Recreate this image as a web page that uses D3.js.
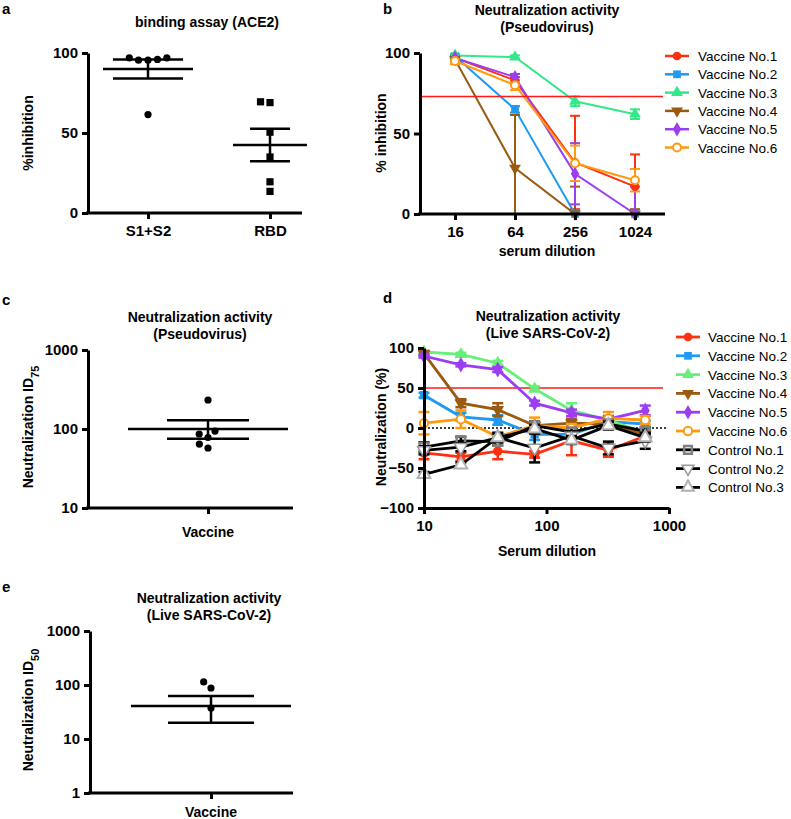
<!DOCTYPE html>
<html><head><meta charset="utf-8">
<script src="https://cdn.jsdelivr.net/npm/d3@7"></script>
<style>body{margin:0;background:#fff}svg{display:block}</style>
</head><body>
<script>
// ================= DATA =================
// Panel a
const aCategories = ["S1+S2", "RBD"];
const aS1S2Values = [97, 95.5, 95.5, 96, 97, 61.5];
const aRBDValues = [69, 69.5, 50.5, 35, 19.5, 13.5];
const aMeans = [90, 42.5];
const aSEMs = [6, 10.2];
const aYTicks = [0, 50, 100];

// Panel b
const bDilutions = [16, 64, 256, 1024];
const bSeriesNames = ["Vaccine No.1", "Vaccine No.2", "Vaccine No.3", "Vaccine No.4", "Vaccine No.5", "Vaccine No.6"];
const bV1 = [97, 83, 32, 17];   const bV1Err = [1, 2, 29, 20];
const bV2 = [98, 65, 0, 0];     const bV2Err = [1, 2, 2, 1];
const bV3 = [98.5, 97.5, 70, 62]; const bV3Err = [1, 1, 3, 3];
const bV4 = [96, 28.5, 0, 0];   const bV4Err = [1, 33, 17, 3];
const bV5 = [97, 85, 25, 0];    const bV5Err = [1, 2, 19, 17];
const bV6 = [95, 80, 31.5, 21]; const bV6Err = [2, 3, 11, 7];
const bThreshold = 73;
const bYTicks = [0, 50, 100];

// Panel c
const cCategory = ["Vaccine"];
const cValues = [233, 86.5, 78, 94, 64.5, 57.5];
const cMean = 100, cSEMLow = 75, cSEMHigh = 129;
const cYTicks = [10, 100, 1000];

// Panel d
const dDilutions = [10, 20, 40, 80, 160, 320, 640];
const dSeriesNames = ["Vaccine No.1", "Vaccine No.2", "Vaccine No.3", "Vaccine No.4", "Vaccine No.5", "Vaccine No.6", "Control No.1", "Control No.2", "Control No.3"];
const dV1 = [-31, -36, -29, -33, -16, -28, -10]; const dV1Err = [8, 5, 10, 4, 18, 8, 5];
const dV2 = [41, 14, 10, -8, -8, 8, 5];          const dV2Err = [3, 5, 6, 7, 5, 5, 4];
const dV3 = [95, 92, 81, 49, 22, 10, -6];        const dV3Err = [2, 2, 3, 3, 9, 5, 4];
const dV4 = [93, 31, 23, 3, 6, 5, -8];           const dV4Err = [3, 5, 8, 5, 5, 5, 5];
const dV5 = [90, 79, 73, 31, 19, 11, 22];        const dV5Err = [2, 2, 3, 3, 4, 4, 6];
const dV6 = [6, 11, -11, 3, 0, 12, 10];          const dV6Err = [14, 11, 5, 10, 5, 8, 5];
const dC1 = [-24, -16, -17, 3, -5, 5, -4];       const dC1Err = [6, 5, 5, 5, 5, 5, 5];
const dC2 = [-28, -24, -12, -25, -10, -25, -16]; const dC2Err = [5, 5, 6, 18, 6, 8, 10];
const dC3 = [-58, -46, -12, -1, -15, 3, -12];    const dC3Err = [3, 3, 5, 5, 5, 5, 5];
const dThreshold = 50;
const dYTicks = [-100, -50, 0, 50, 100];
const dXTicks = [10, 100, 1000];

// Panel e
const eCategory = ["Vaccine"];
const eValues = [114, 88, 37.5];
const eMean = 41, eSEMLow = 20, eSEMHigh = 62.5;
const eYTicks = [1, 10, 100, 1000];

// ================= DRAWING =================
const FONT = "'Liberation Sans', Arial, Helvetica, sans-serif";
const TICK_FS = 15;
const svg = d3.select("body").append("svg").attr("width", 791).attr("height", 819);

function txt(x, y, s, o = {}) {
  const t = svg.append("text").attr("x", x).attr("y", y).text(s)
    .attr("font-family", FONT).attr("font-size", o.size || 14)
    .attr("font-weight", o.weight || "bold").attr("fill", "#000")
    .attr("text-anchor", o.anchor || "middle");
  if (o.rotate) t.attr("transform", `rotate(-90,${x},${y})`);
  return t;
}
function styleAxis(g) {
  g.selectAll(".domain").attr("stroke", "#000").attr("stroke-width", 3);
  g.selectAll(".tick line").attr("stroke", "#000").attr("stroke-width", 3);
  g.selectAll(".tick text").attr("font-family", FONT).attr("font-weight", "bold")
    .attr("font-size", TICK_FS).attr("fill", "#000");
}
function hline(x1, x2, y, w = 3, color = "#000") {
  svg.append("line").attr("x1", x1).attr("x2", x2).attr("y1", y).attr("y2", y)
    .attr("stroke", color).attr("stroke-width", w);
}
function yAxis(scale, x, ticks, fmt) {
  const g = svg.append("g").attr("transform", `translate(${x},0)`)
    .call(d3.axisLeft(scale).tickValues(ticks).tickSize(6).tickSizeOuter(0).tickPadding(4).tickFormat(fmt || d3.format("d")));
  styleAxis(g); return g;
}
function xTicks(scale, y, ticks, fmt) {
  const g = svg.append("g").attr("transform", `translate(0,${y})`)
    .call(d3.axisBottom(scale).tickValues(ticks).tickSize(6).tickSizeOuter(0).tickPadding(6).tickFormat(fmt || (d => d)));
  styleAxis(g); g.select(".domain").remove(); return g;
}
function beeswarm(vals, yScale, D) {
  const pts = vals.map((v, i) => ({ v, i, y: yScale(v) })).sort((a, b) => a.v - b.v);
  const placed = [];
  pts.forEach(p => {
    const cands = [0];
    placed.forEach(q => {
      const dy = Math.abs(q.y - p.y);
      if (dy < D) { const dx = Math.sqrt(D * D - dy * dy); cands.push(q.x + dx + 0.01, q.x - dx - 0.01); }
    });
    cands.sort((a, b) => Math.abs(a) - Math.abs(b) || a - b);
    for (const c of cands) {
      if (placed.every(q => Math.hypot(q.x - c, q.y - p.y) >= D - 0.001)) { p.x = c; break; }
    }
    placed.push(p);
  });
  return pts;
}
function meanSem(cx, yMean, yLo, yHi, wMean, wSem) {
  hline(cx - wMean, cx + wMean, yMean, 2.5);
  hline(cx - wSem, cx + wSem, yLo, 2.5);
  hline(cx - wSem, cx + wSem, yHi, 2.5);
  svg.append("line").attr("x1", cx).attr("x2", cx).attr("y1", yLo).attr("y2", yHi)
    .attr("stroke", "#000").attr("stroke-width", 2.5);
}

// ---------- Panel a ----------
{
  const y = d3.scaleLinear().domain([0, 100]).range([213, 53]);
  const x = d3.scalePoint().domain(aCategories).range([148, 270]);
  txt(2, 14, "a", { anchor: "start", size: 15 });
  txt(207, 27, "binding assay (ACE2)");
  txt(33, 133, "%inhibition", { rotate: true });
  hline(86, 302, 213);
  yAxis(y, 88, aYTicks);
  xTicks(x, 213, aCategories);
  const groups = [aS1S2Values, aRBDValues];
  groups.forEach((vals, gi) => {
    const cx = x(aCategories[gi]);
    if (gi === 0) meanSem(cx, y(aMeans[gi]), y(aMeans[gi] - aSEMs[gi]), y(aMeans[gi] + aSEMs[gi]), 45, 35);
    else meanSem(cx, y(aMeans[gi]), y(aMeans[gi] - aSEMs[gi]), y(aMeans[gi] + aSEMs[gi]), 37, 20);
    const pts = beeswarm(vals, y, 9.5);
    pts.forEach(p => {
      if (gi === 0) svg.append("circle").attr("cx", cx + p.x).attr("cy", p.y).attr("r", 3.6).attr("fill", "#000");
      else svg.append("rect").attr("x", cx + p.x - 3.6).attr("y", p.y - 3.6).attr("width", 7.2).attr("height", 7.2).attr("fill", "#000");
    });
  });
}

// ---------- symbol helpers ----------
function symPath(kind, size) {
  const map = { circle: d3.symbolCircle, square: d3.symbolSquare, triangle: d3.symbolTriangle, down: d3.symbolTriangle, diamond: d3.symbolDiamond, ocircle: d3.symbolCircle };
  return d3.symbol().type(map[kind]).size(size)();
}
function drawSym(g, kind, cx, cy, st, size) {
  return g.append("path").attr("d", symPath(kind, size))
    .attr("transform", `translate(${cx},${cy})${kind === "down" ? " rotate(180)" : ""}`)
    .attr("fill", st.fill).attr("stroke", st.stroke || "none").attr("stroke-width", st.sw || 0);
}

// ---------- Panel b ----------
{
  const x = d3.scaleLog().base(2).domain([16, 1024]).range([455, 635]);
  const y = d3.scaleLinear().domain([0, 100]).range([214, 53]);
  const series = [bV1, bV2, bV3, bV4, bV5, bV6];
  const errs = [bV1Err, bV2Err, bV3Err, bV4Err, bV5Err, bV6Err];
  const colors = ["#ff3010", "#1f9af0", "#33e888", "#9a5a12", "#9b3df0", "#ff9a10"];
  const kinds = ["circle", "square", "triangle", "down", "diamond", "ocircle"];
  txt(383, 14, "b", { anchor: "start", size: 15 });
  txt(547, 15, "Neutralization activity");
  txt(547, 32, "(Pseudovirus)");
  txt(386, 133, "% inhibition", { rotate: true });
  txt(547, 256, "serum dilution");
  const gp = svg.append("g");
  hline(420, 663, y(bThreshold), 1.5, "#ff1a1a");
  series.forEach((vals, si) => {
    const c = colors[si];
    const line = d3.line().x((d, i) => x(bDilutions[i])).y(d => y(d));
    gp.append("path").attr("d", line(vals)).attr("fill", "none").attr("stroke", c).attr("stroke-width", 2);
    vals.forEach((v, i) => {
      const e = errs[si][i];
      const lo = y(Math.max(0, v - e)), hi = y(Math.min(100, v + e));
      const cx = x(bDilutions[i]);
      gp.append("line").attr("x1", cx).attr("x2", cx).attr("y1", lo).attr("y2", hi).attr("stroke", c).attr("stroke-width", 2);
      [lo, hi].forEach(yy => gp.append("line").attr("x1", cx - 5).attr("x2", cx + 5).attr("y1", yy).attr("y2", yy).attr("stroke", c).attr("stroke-width", 2));
    });
  });
  series.forEach((vals, si) => {
    const c = colors[si];
    vals.forEach((v, i) => {
      const st = kinds[si] === "ocircle" ? { fill: "#fff", stroke: c, sw: 2 } : { fill: c };
      drawSym(gp, kinds[si], x(bDilutions[i]), y(v), st, kinds[si] === "ocircle" ? 50 : 60);
    });
  });
  hline(418, 665, 214);
  yAxis(y, 420, bYTicks);
  xTicks(x, 214, bDilutions);
  bSeriesNames.forEach((n, si) => {
    const cy = 56 + si * 18.3;
    const c = colors[si];
    hline(665, 689, cy, 2.5, c);
    const st = kinds[si] === "ocircle" ? { fill: "#fff", stroke: c, sw: 2 } : { fill: c };
    drawSym(svg, kinds[si], 677, cy, st, kinds[si] === "ocircle" ? 50 : 60);
    txt(698, cy + 5, n, { anchor: "start", weight: "normal", size: 13.5 });
  });
}

// ---------- Panel c ----------
{
  const y = d3.scaleLog().domain([10, 1000]).range([508, 350]);
  const x = d3.scalePoint().domain(cCategory).range([208, 208]);
  txt(2, 305, "c", { anchor: "start", size: 15 });
  txt(200, 322, "Neutralization activity");
  txt(200, 339, "(Pseudovirus)");
  const yl = txt(33, 427, "Neutralization ID", { rotate: true });
  yl.append("tspan").attr("baseline-shift", "sub").attr("font-size", 11).text("75");
  hline(86, 293, 508);
  yAxis(y, 88, cYTicks);
  xTicks(x, 508, cCategory, () => "");
  txt(208, 537, "Vaccine");
  const cx = x("Vaccine");
  meanSem(cx, y(cMean), y(cSEMLow), y(cSEMHigh), 80, 41);
  beeswarm(cValues, y, 9.5).forEach(p => svg.append("circle").attr("cx", cx + p.x).attr("cy", p.y).attr("r", 3.6).attr("fill", "#000"));
}

// ---------- Panel d ----------
{
  const x = d3.scaleLog().domain([10, 1000]).range([424, 669]);
  const y = d3.scaleLinear().domain([-100, 100]).range([508, 348]);
  const series = [dV1, dV2, dV3, dV4, dV5, dV6, dC1, dC2, dC3];
  const errs = [dV1Err, dV2Err, dV3Err, dV4Err, dV5Err, dV6Err, dC1Err, dC2Err, dC3Err];
  const colors = ["#ff3010", "#1f9af0", "#66f07a", "#9a5a12", "#9b3df0", "#ff9a10", "#000", "#000", "#000"];
  const kinds = ["circle", "square", "triangle", "down", "diamond", "ocircle", "square", "down", "triangle"];
  const styles = [
    { fill: colors[0] }, { fill: colors[1] }, { fill: colors[2] }, { fill: colors[3] }, { fill: colors[4] },
    { fill: "#fff", stroke: colors[5], sw: 2 },
    { fill: "none", stroke: "#808080", sw: 2.5 },
    { fill: "#fff", stroke: "#9a9a9a", sw: 1.5 },
    { fill: "#fff", stroke: "#b0b0b0", sw: 2 }
  ];
  txt(383, 303, "d", { anchor: "start", size: 15 });
  txt(548, 321, "Neutralization activity");
  txt(548, 338, "(Live SARS-CoV-2)");
  txt(386, 427, "Neutralization (%)", { rotate: true });
  txt(547, 556, "Serum dilution");
  hline(424, 663, y(dThreshold), 1.5, "#ff1a1a");
  svg.append("line").attr("x1", 424).attr("x2", 668).attr("y1", y(0)).attr("y2", y(0))
    .attr("stroke", "#000").attr("stroke-width", 1.5).attr("stroke-dasharray", "2,2");
  const gp = svg.append("g");
  series.forEach((vals, si) => {
    const c = colors[si];
    const line = d3.line().x((d, i) => x(dDilutions[i])).y(d => y(d));
    gp.append("path").attr("d", line(vals)).attr("fill", "none").attr("stroke", c).attr("stroke-width", 2.8);
    vals.forEach((v, i) => {
      const e = errs[si][i];
      const lo = y(v - e), hi = y(v + e);
      const cx = x(dDilutions[i]);
      gp.append("line").attr("x1", cx).attr("x2", cx).attr("y1", lo).attr("y2", hi).attr("stroke", c).attr("stroke-width", 2.5);
      [lo, hi].forEach(yy => gp.append("line").attr("x1", cx - 5.5).attr("x2", cx + 5.5).attr("y1", yy).attr("y2", yy).attr("stroke", c).attr("stroke-width", 2.5));
    });
    vals.forEach((v, i) => drawSym(gp, kinds[si], x(dDilutions[i]), y(v), styles[si], si === 5 ? 55 : 70));
  });
  yAxis(y, 424, dYTicks);
  const gx = svg.append("g").attr("transform", "translate(0,508)")
    .call(d3.axisBottom(x).tickValues(dXTicks).tickSize(6).tickSizeOuter(0).tickPadding(6).tickFormat(d3.format("d")));
  styleAxis(gx);
  dSeriesNames.forEach((n, si) => {
    const cy = 337 + si * 18.8;
    const c = colors[si];
    hline(676, 700, cy, 2.8, c);
    drawSym(svg, kinds[si], 688, cy, styles[si], si === 5 ? 55 : 60);
    txt(708, cy + 5, n, { anchor: "start", weight: "normal", size: 13.5 });
  });
}

// ---------- Panel e ----------
{
  const y = d3.scaleLog().domain([1, 1000]).range([793, 631]);
  const x = d3.scalePoint().domain(eCategory).range([211, 211]);
  txt(2, 592, "e", { anchor: "start", size: 15 });
  txt(209, 603, "Neutralization activity");
  txt(209, 620, "(Live SARS-CoV-2)");
  const yl = txt(33, 710, "Neutralization ID", { rotate: true });
  yl.append("tspan").attr("baseline-shift", "sub").attr("font-size", 11).text("50");
  hline(88, 293, 793);
  yAxis(y, 90, eYTicks);
  xTicks(x, 793, eCategory, () => "");
  txt(211, 817, "Vaccine");
  const cx = x("Vaccine");
  meanSem(cx, y(eMean), y(eSEMLow), y(eSEMHigh), 80, 43);
  beeswarm(eValues, y, 9.5).forEach(p => svg.append("circle").attr("cx", cx + p.x).attr("cy", p.y).attr("r", 3.6).attr("fill", "#000"));
}
</script>
</body></html>
